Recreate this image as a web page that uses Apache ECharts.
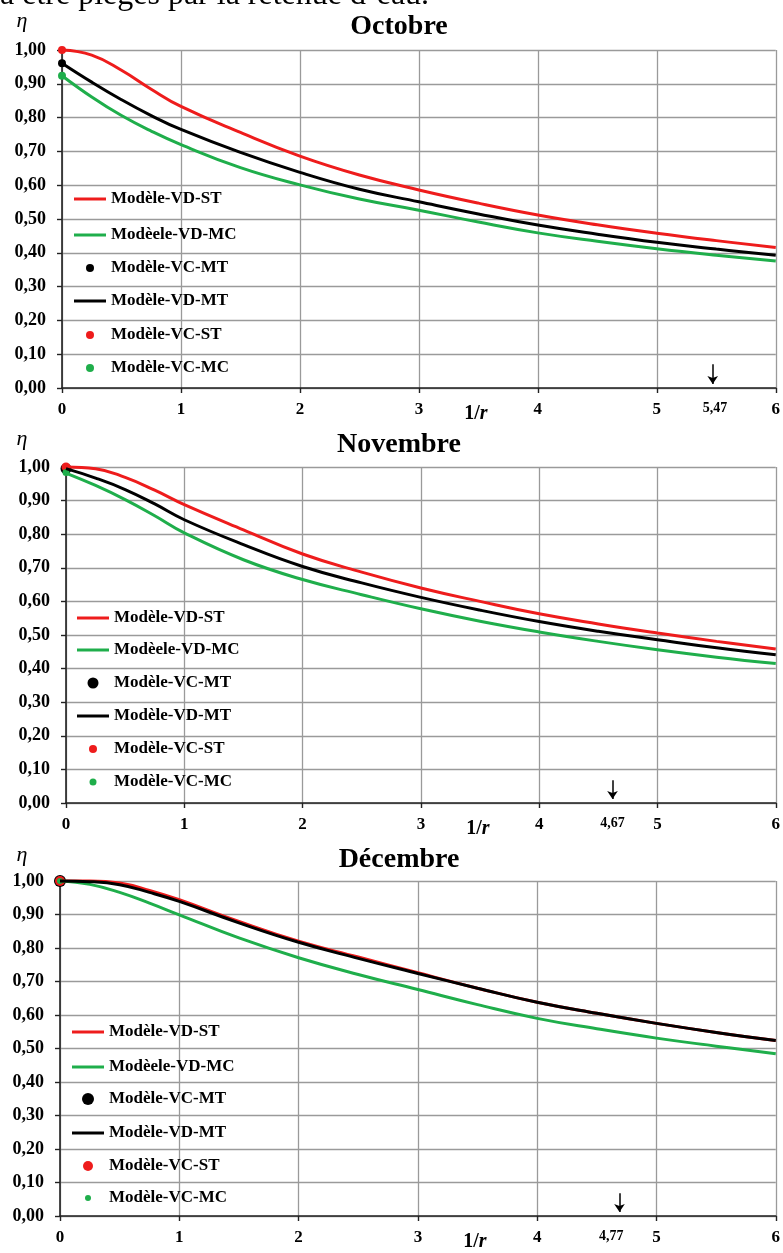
<!DOCTYPE html>
<html><head><meta charset="utf-8">
<script src="https://cdn.jsdelivr.net/npm/echarts@6/dist/echarts.min.js"></script>
<style>html,body{margin:0;padding:0;background:#fff}#c{width:783px;height:1253px}</style>
</head><body><div id="c"></div>
<script>
// ---------- data ----------
const xValues = [0, 0.25, 0.5, 0.75, 1, 1.5, 2, 2.5, 3, 3.5, 4, 4.5, 5, 5.5, 6];
const xTicks = [0, 1, 2, 3, 4, 5, 6];
const months = ['Octobre', 'Novembre', 'Décembre'];
const legendNames = ['Modèle-VD-ST', 'Modèele-VD-MC', 'Modèle-VC-MT', 'Modèle-VD-MT', 'Modèle-VC-ST', 'Modèle-VC-MC'];

// Octobre
const octVDST = [1.000, 0.985, 0.940, 0.884, 0.833, 0.756, 0.686, 0.630, 0.586, 0.547, 0.512, 0.483, 0.458, 0.436, 0.416];
const octVDMT = [0.961, 0.905, 0.853, 0.806, 0.765, 0.697, 0.638, 0.588, 0.551, 0.515, 0.482, 0.455, 0.431, 0.411, 0.393];
const octVDMC = [0.924, 0.861, 0.806, 0.760, 0.720, 0.652, 0.601, 0.559, 0.526, 0.491, 0.459, 0.434, 0.412, 0.393, 0.376];
const octVC = { ST: 1.000, MT: 0.961, MC: 0.924 };
// Novembre
const novVDST = [1.000, 0.995, 0.969, 0.931, 0.888, 0.813, 0.741, 0.687, 0.640, 0.600, 0.563, 0.533, 0.506, 0.481, 0.458];
const novVDMT = [0.995, 0.967, 0.933, 0.890, 0.843, 0.769, 0.704, 0.655, 0.612, 0.574, 0.540, 0.511, 0.486, 0.462, 0.441];
const novVDMC = [0.982, 0.945, 0.903, 0.855, 0.804, 0.724, 0.665, 0.620, 0.578, 0.541, 0.509, 0.481, 0.456, 0.434, 0.415];
const novVC = { ST: 1.000, MT: 0.995, MC: 0.984 };
// Décembre
const decVDST = [1.000, 1.000, 0.994, 0.972, 0.944, 0.879, 0.820, 0.773, 0.726, 0.680, 0.638, 0.605, 0.575, 0.548, 0.524];
const decVDMT = [1.000, 0.998, 0.989, 0.966, 0.939, 0.875, 0.817, 0.769, 0.724, 0.680, 0.638, 0.605, 0.575, 0.548, 0.524];
const decVDMC = [1.000, 0.990, 0.966, 0.934, 0.899, 0.830, 0.771, 0.721, 0.676, 0.631, 0.590, 0.559, 0.531, 0.507, 0.484];
const decVC = { ST: 1.000, MT: 1.000, MC: 1.000 };

// arrows (1/r critical values)
const arrowAt = [5.47, 4.62, 4.69];
const arrowLabelAt = [5.49, 4.62, 4.62];
const arrowLabels = ['5,47', '4,67', '4,77'];

// ---------- layout / style ----------
const SERIF = '"Liberation Serif", "Times New Roman", serif';
const RED = '#ee1c1c', GREEN = '#1fae4b', BLACK = '#000000';
const grids = [
  { left: 62, top: 50, width: 716, height: 338 },
  { left: 66, top: 467, width: 710, height: 336 },
  { left: 60, top: 881, width: 718, height: 338 }
];
const titleY = [27, 445, 860];
const etaY = [21, 439, 855];
const legendLeft = [74, 77, 72];
const legendCY = [
  [199, 235, 268, 301, 335, 368],
  [618, 650, 683, 716, 749, 782],
  [1032, 1067, 1099, 1133, 1166, 1198]
];
// dot sizes [MT, ST, MC]
const dotSizes = [[8, 8, 8], [11, 9, 7], [12, 10, 6]];
const legendDot = [[8, 8, 8], [11, 8, 7], [12, 10, 6]];
const arrowTop = [0.07, 0.068, 0.068];

const panelData = [
  { ST: octVDST, MT: octVDMT, MC: octVDMC, VC: octVC },
  { ST: novVDST, MT: novVDMT, MC: novVDMC, VC: novVC },
  { ST: decVDST, MT: decVDMT, MC: decVDMC, VC: decVC }
];

const xAxes = [], yAxes = [], series = [], legends = [], graphics = [];

graphics.push({
  type: 'text', x: 0, y: -4, silent: true,
  style: { text: 'à être piégés par la retenue d\u2019eau.', font: '32px ' + SERIF, fill: '#000', textAlign: 'left', textVerticalAlign: 'middle' }
});

function pairs(arr) { return xValues.map((x, j) => [x, arr[j]]); }

panelData.forEach((pd, i) => {
  xAxes.push({
    gridIndex: i, type: 'value', min: 0, max: 6, interval: 1,
    axisLine: { show: true, onZero: false, lineStyle: { color: '#222', width: 1.6 } },
    axisTick: { show: true, length: 5, lineStyle: { color: '#222', width: 1.4 } },
    axisLabel: { fontFamily: SERIF, fontWeight: 'bold', fontSize: 17, color: '#000', margin: 13 },
    splitLine: { show: true, lineStyle: { color: '#9a9a9a', width: 1.3 } },
    name: '{a|1/}{b|r}', nameLocation: 'middle', nameGap: 16, nameMoveOverlap: false,
    nameTextStyle: {
      padding: [0, 0, 0, 114],
      rich: {
        a: { fontFamily: SERIF, fontWeight: 'bold', fontSize: 20, color: '#000' },
        b: { fontFamily: SERIF, fontWeight: 'bold', fontStyle: 'italic', fontSize: 20, color: '#000' }
      }
    }
  });
  yAxes.push({
    gridIndex: i, type: 'value', min: 0, max: 1, interval: 0.1,
    axisLine: { show: true, lineStyle: { color: '#222', width: 1.6 } },
    axisTick: { show: true, length: 5, lineStyle: { color: '#222', width: 1.4 } },
    axisLabel: { fontFamily: SERIF, fontWeight: 'bold', fontSize: 18, color: '#000', margin: 16,
      formatter: v => v.toFixed(2).replace('.', ',') },
    splitLine: { show: true, lineStyle: { color: '#9a9a9a', width: 1.3 } }
  });

  const lineBase = { type: 'line', xAxisIndex: i, yAxisIndex: i, smooth: 0.45,
    showSymbol: false, symbol: 'none', clip: false, animation: false };
  series.push(Object.assign({}, lineBase, {
    name: legendNames[0], data: pairs(pd.ST), color: RED,
    lineStyle: { width: 3, color: RED }, itemStyle: { color: RED },
    markLine: {
      silent: true, animation: false, symbol: ['none', 'arrow'], symbolSize: 8,
      lineStyle: { color: '#000', width: 1.5, type: 'solid' }, label: { show: false },
      data: [[{ coord: [arrowAt[i], arrowTop[i]] }, { coord: [arrowAt[i], 0.012] }]]
    },
    markPoint: {
      silent: true, animation: false, symbol: 'circle', symbolSize: 0,
      label: { show: true, position: 'bottom', distance: 13, formatter: arrowLabels[i],
        fontFamily: SERIF, fontWeight: 'bold', fontSize: 14, color: '#000' },
      data: [{ coord: [arrowLabelAt[i], 0] }]
    }
  }));
  series.push(Object.assign({}, lineBase, {
    name: legendNames[1], data: pairs(pd.MC), color: GREEN,
    lineStyle: { width: 3, color: GREEN }, itemStyle: { color: GREEN }
  }));
  series.push(Object.assign({}, lineBase, {
    name: legendNames[3], data: pairs(pd.MT), color: BLACK,
    lineStyle: { width: 3, color: BLACK }, itemStyle: { color: BLACK }
  }));
  const scBase = { type: 'scatter', xAxisIndex: i, yAxisIndex: i, clip: false, animation: false, symbol: 'circle' };
  series.push(Object.assign({}, scBase, { name: legendNames[2], data: [[0, pd.VC.MT]], symbolSize: dotSizes[i][0], color: BLACK, itemStyle: { color: BLACK, opacity: 1 } }));
  series.push(Object.assign({}, scBase, { name: legendNames[4], data: [[0, pd.VC.ST]], symbolSize: dotSizes[i][1], color: RED, itemStyle: { color: RED, opacity: 1 } }));
  series.push(Object.assign({}, scBase, { name: legendNames[5], data: [[0, pd.VC.MC]], symbolSize: dotSizes[i][2], color: GREEN, itemStyle: { color: GREEN, opacity: 1 } }));

  // legends, one component per item
  legendNames.forEach((nm, k) => {
    const isDot = nm.indexOf('VC') >= 0;
    let h = 12, left = legendLeft[i];
    if (isDot) {
      const idx = nm.indexOf('MT') >= 0 ? 0 : (nm.indexOf('ST') >= 0 ? 1 : 2);
      h = legendDot[i][idx];
      left = legendLeft[i] + 16 - h / 2;
    }
    legends.push({
      left: left, top: legendCY[i][k] - 10, padding: 0, orient: 'vertical',
      itemWidth: 32, itemHeight: h, selectedMode: false,
      data: [{ name: nm, icon: isDot ? 'circle' : 'path://M0,0L32,0L32,3L0,3Z', itemStyle: { opacity: 1 } }],
      textStyle: { fontFamily: SERIF, fontWeight: 'bold', fontSize: 17, lineHeight: 20, color: '#000' }
    });
  });

  graphics.push({
    type: 'text', x: 399, y: titleY[i], silent: true,
    style: { text: months[i], font: 'bold 28px ' + SERIF, fill: '#000', textAlign: 'center', textVerticalAlign: 'middle' }
  });
  graphics.push({
    type: 'text', x: 22, y: etaY[i], silent: true,
    style: { text: 'η', font: 'italic 22px ' + SERIF, fill: '#000', textAlign: 'center', textVerticalAlign: 'middle' }
  });
});

const chart = echarts.init(document.getElementById('c'), null, { renderer: 'canvas' });
chart.setOption({
  backgroundColor: '#ffffff',
  animation: false,
  grid: grids,
  xAxis: xAxes,
  yAxis: yAxes,
  legend: legends,
  series: series,
  graphic: graphics
});
</script></body></html>
